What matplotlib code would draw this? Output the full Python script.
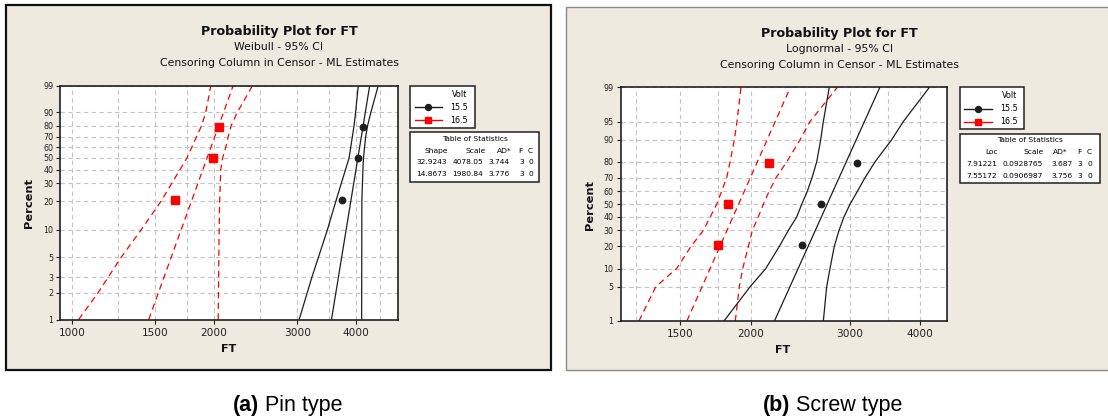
import numpy as np
import matplotlib
matplotlib.use("Agg")
import matplotlib.pyplot as plt
from matplotlib.patches import Rectangle
from matplotlib.lines import Line2D
from statistics import NormalDist

# ---- data ----
rank_pct = [20.6, 50, 79.4]  # median ranks of the 3 failures

# (a) Pin type - Weibull
pin_155_ft = [3738, 4041, 4140]
pin_165_ft = [1652, 1988, 2053]
pin_155_fit_ft, pin_155_fit_pct = [3546, 4272], [1, 99]
pin_165_fit_ft, pin_165_fit_pct = [1454, 2195], [1, 99]
pin_155_lo_ft = [3029, 3223, 3476, 3622, 3864, 3958, 3989, 4041]
pin_155_lo_pct = [1, 3, 10, 20, 50, 80, 90, 99]
pin_155_hi_ft = [4108, 4112, 4134, 4145, 4189, 4228, 4298, 4454]
pin_155_hi_pct = [1, 20, 40, 50, 70, 80, 90, 99]
pin_165_lo_ft = [1033, 1135, 1271, 1401, 1544, 1752, 1881, 1921, 1968]
pin_165_lo_pct = [1, 2, 5, 10, 20, 50, 80, 90, 99]
pin_165_hi_ft = [2040, 2050, 2055, 2066, 2085, 2117, 2142, 2173, 2241, 2412]
pin_165_hi_pct = [1, 10, 20, 40, 50, 60, 70, 80, 90, 99]
pin_yticks = [1, 2, 3, 5, 10, 20, 30, 40, 50, 60, 70, 80, 90, 99]
pin_xticks = [1000, 1500, 2000, 3000, 4000]
pin_xgrid = [1250, 1750, 2500, 3500, 4500]
pin_stats_head = ["Shape", "Scale", "AD*", "F", "C"]
pin_stats = [["32.9243", "4078.05", "3.744", "3", "0"],
             ["14.8673", "1980.84", "3.776", "3", "0"]]

# (b) Screw type - Lognormal
screw_155_ft = [2470, 2662, 3088]
screw_165_ft = [1752, 1820, 2158]
screw_155_fit_ft, screw_155_fit_pct = [2204, 3390], [1, 99]
screw_165_fit_ft, screw_165_fit_pct = [1541, 2352], [1, 99]
ci_pct = [1, 5, 10, 20, 30, 40, 50, 60, 70, 80, 90, 95, 99]
screw_155_lo_ft = [1793, 1995, 2127, 2248, 2332, 2414, 2464, 2520, 2569, 2619, 2662, 2691, 2757]
screw_155_hi_ft = [2691, 2728, 2765, 2814, 2869, 2928, 3001, 3092, 3190, 3323, 3557, 3731, 4151]
screw_165_lo_ft = [1267, 1357, 1478, 1567, 1648, 1741, 1813, 1838, 1871, 1891, 1922]
screw_165_lo_pct = [1, 5, 10, 20, 30, 50, 70, 80, 90, 95, 99]
screw_165_hi_ft = [1878, 1909, 1936, 1981, 2013, 2063, 2106, 2156, 2218, 2317, 2447, 2548, 2850]
screw_yticks = [1, 5, 10, 20, 30, 40, 50, 60, 70, 80, 90, 95, 99]
screw_xticks = [1500, 2000, 3000, 4000]
screw_xgrid = [1250, 1750, 2500, 3500]
screw_stats_head = ["Loc", "Scale", "AD*", "F", "C"]
screw_stats = [["7.91221", "0.0928765", "3.687", "3", "0"],
               ["7.55172", "0.0906987", "3.756", "3", "0"]]

W, H = 1108, 420
BEIGE = "#EEEAE0"
RED = "#FF0000"
BLK = "#1E1E1E"

plt.rcParams["font.family"] = ["DejaVu Sans"]


def fx(x):
    return x / W


def fy(y):
    return 1 - y / H


# probability scales
def weib_fwd(p):
    p = np.clip(np.asarray(p, dtype=float), 1e-4, 99.9999) / 100
    return np.log(-np.log(1 - p))


def weib_inv(t):
    return 100 * (1 - np.exp(-np.exp(np.asarray(t, dtype=float))))


_nd = NormalDist()
norm_fwd = np.vectorize(lambda p: _nd.inv_cdf(min(max(p / 100, 1e-6), 1 - 1e-6)), otypes=[float])
norm_inv = np.vectorize(lambda z: 100 * _nd.cdf(z), otypes=[float])

fig = plt.figure(figsize=(W / 100, H / 100), dpi=100)
fig.patch.set_facecolor("white")


def panel(box, ax_px, scale, yticks, xlim, xticks, xgrid):
    # beige Minitab frame
    x0, y0, x1, y1, ec, lw = box
    fig.add_artist(Rectangle((fx(x0), fy(y1)), (x1 - x0) / W, (y1 - y0) / H,
                             transform=fig.transFigure, facecolor=BEIGE,
                             edgecolor=ec, linewidth=lw, zorder=0))
    l, t, r, b = ax_px
    ax = fig.add_axes([fx(l), fy(b), (r - l) / W, (b - t) / H])
    ax.set_facecolor("white")
    ax.set_xscale("log")
    ax.set_yscale("function", functions=scale)
    ax.set_ylim(1, 99)
    ax.set_xlim(*xlim)
    ax.set_yticks(yticks, labels=[str(v) for v in yticks])
    ax.yaxis.set_minor_locator(matplotlib.ticker.NullLocator())
    ax.set_xticks(xticks, labels=[str(v) for v in xticks])
    ax.set_xticks(xgrid, minor=True)
    ax.xaxis.set_minor_formatter(matplotlib.ticker.NullFormatter())
    ax.tick_params(axis="x", which="major", length=3, width=0.8, pad=3, labelsize=7.6, colors="#222222")
    ax.tick_params(axis="x", which="minor", length=0)
    ax.tick_params(axis="y", length=3, width=0.8, pad=2, labelsize=5.8, colors="#222222")
    ax.grid(True, which="both", color="#C4C4C4", linestyle=(0, (4, 3)), linewidth=0.8)
    ax.set_axisbelow(True)
    for s in ax.spines.values():
        s.set_color("#202020")
        s.set_linewidth(1.2)
    return ax


def texts(cx, ty, title2, lab_x, lab_y, ft_x, ft_y):
    fig.text(fx(cx), fy(ty), "Probability Plot for FT", ha="center", va="center",
             fontsize=9.1, fontweight="bold", color="#111111")
    fig.text(fx(cx), fy(ty + 15.8), title2, ha="center", va="center", fontsize=7.8, color="#111111")
    fig.text(fx(cx), fy(ty + 31.6), "Censoring Column in Censor - ML Estimates",
             ha="center", va="center", fontsize=7.8, color="#111111")
    fig.text(fx(lab_x), fy(lab_y), "Percent", rotation=90, ha="center", va="center",
             fontsize=8.2, fontweight="bold", color="#111111")
    fig.text(fx(ft_x), fy(ft_y), "FT", ha="center", va="center",
             fontsize=8, fontweight="bold", color="#111111")


def legend(lx0, lx1, ly0, ly1, tx1, ty0, ty1, head, rows, head_x, col_x):
    fig.add_artist(Rectangle((fx(lx0), fy(ly1)), (lx1 - lx0) / W, (ly1 - ly0) / H,
                             transform=fig.transFigure, facecolor="white",
                             edgecolor="#202020", linewidth=1.1))
    fig.text(fx(lx1 - 7), fy(ly0 + 8.5), "Volt", ha="right", va="center", fontsize=5.8)
    for i, (lab, col, mk, ms) in enumerate([("15.5", BLK, "o", 4.3), ("16.5", RED, "s", 4.6)]):
        yy = ly0 + 21.5 + 13 * i
        fig.add_artist(Line2D([fx(lx0 + 4.5), fx(lx0 + 32)], [fy(yy), fy(yy)],
                              transform=fig.transFigure, color=col, linewidth=1))
        fig.add_artist(Line2D([fx(lx0 + 18.2)], [fy(yy)], transform=fig.transFigure,
                              color=col, marker=mk, markersize=ms, linestyle="none"))
        fig.text(fx(lx0 + 40.5), fy(yy), lab, ha="left", va="center", fontsize=5.8)
    fig.add_artist(Rectangle((fx(lx0), fy(ty1)), (tx1 - lx0) / W, (ty1 - ty0) / H,
                             transform=fig.transFigure, facecolor="white",
                             edgecolor="#202020", linewidth=1.1))
    fig.text(fx((lx0 + tx1) / 2 + 0.5), fy(ty0 + 6.5), "Table of Statistics", ha="center",
             va="center", fontsize=5.4)
    for h, x in zip(head, head_x):
        fig.text(fx(x), fy(ty0 + 18.5), h, ha="center", va="center", fontsize=5.4)
    for j, row in enumerate(rows):
        for v, x in zip(row, col_x):
            fig.text(fx(x), fy(ty0 + 29.5 + 12.3 * j), v, ha="left", va="center", fontsize=5.4)


def series(ax, lo, fit, hi, pts, col, mk, ms, dashed):
    ls = (0, (5, 3.5)) if dashed else "-"
    for (xs, ps) in (lo, fit, hi):
        ax.plot(xs, ps, color=col, linestyle=ls, linewidth=0.9, solid_capstyle="butt")
    ax.plot(pts, rank_pct, linestyle="none", marker=mk, markersize=ms, color=col, zorder=5)


# ---------- (a) Pin type ----------
ax_a = panel((6, 5, 551, 370, "#111111", 1.6), (60.3, 85.7, 397.7, 319.5),
             (weib_fwd, weib_inv), pin_yticks, (944.5, 4898), pin_xticks, pin_xgrid)
series(ax_a, (pin_165_lo_ft, pin_165_lo_pct), (pin_165_fit_ft, pin_165_fit_pct),
       (pin_165_hi_ft, pin_165_hi_pct), pin_165_ft, RED, "s", 5.2, True)
series(ax_a, (pin_155_lo_ft, pin_155_lo_pct), (pin_155_fit_ft, pin_155_fit_pct),
       (pin_155_hi_ft, pin_155_hi_pct), pin_155_ft, BLK, "o", 4.6, False)
texts(279, 31.7, "Weibull - 95% CI", 29.3, 203, 228.3, 349)
legend(410, 474.5, 85.7, 128.3, 539, 132.3, 181.7, pin_stats_head, pin_stats,
       [436.6, 476, 504, 520.8, 530.5], [416.5, 452.5, 488.5, 519, 528.5])

# ---------- (b) Screw type ----------
ax_b = panel((566, 7, 1115, 370, "#8A8A8A", 1.0), (620.5, 87.3, 946.9, 321),
             (norm_fwd, norm_inv), screw_yticks, (1175, 4458), screw_xticks, screw_xgrid)
series(ax_b, (screw_165_lo_ft, screw_165_lo_pct), (screw_165_fit_ft, screw_165_fit_pct),
       (screw_165_hi_ft, ci_pct), screw_165_ft, RED, "s", 5.2, True)
series(ax_b, (screw_155_lo_ft, ci_pct), (screw_155_fit_ft, screw_155_fit_pct),
       (screw_155_hi_ft, ci_pct), screw_155_ft, BLK, "o", 4.6, False)
texts(839.6, 33.3, "Lognormal - 95% CI", 589.7, 205, 783, 350)
legend(959.5, 1024.2, 87.3, 129.3, 1100, 134, 182.7, screw_stats_head, screw_stats,
       [991.7, 1034, 1060.5, 1079.7, 1089], [966, 1002.5, 1051.5, 1077.5, 1087.5])

# ---------- captions ----------
cap_fam = ["Liberation Sans Narrow", "Liberation Sans", "DejaVu Sans"]
for x0, tag, name in [(233, "(a)", " Pin type"), (763, "(b)", " Screw type")]:
    t1 = fig.text(fx(x0), fy(405), tag, ha="left", va="center", fontsize=15.5,
                  fontweight="bold", family=cap_fam)
    fig.canvas.draw()
    bb = t1.get_window_extent()
    fig.text(bb.x1 / W, fy(405), name, ha="left", va="center", fontsize=15.5, family=cap_fam)

fig.savefig("out.png", dpi=100, facecolor="white")
